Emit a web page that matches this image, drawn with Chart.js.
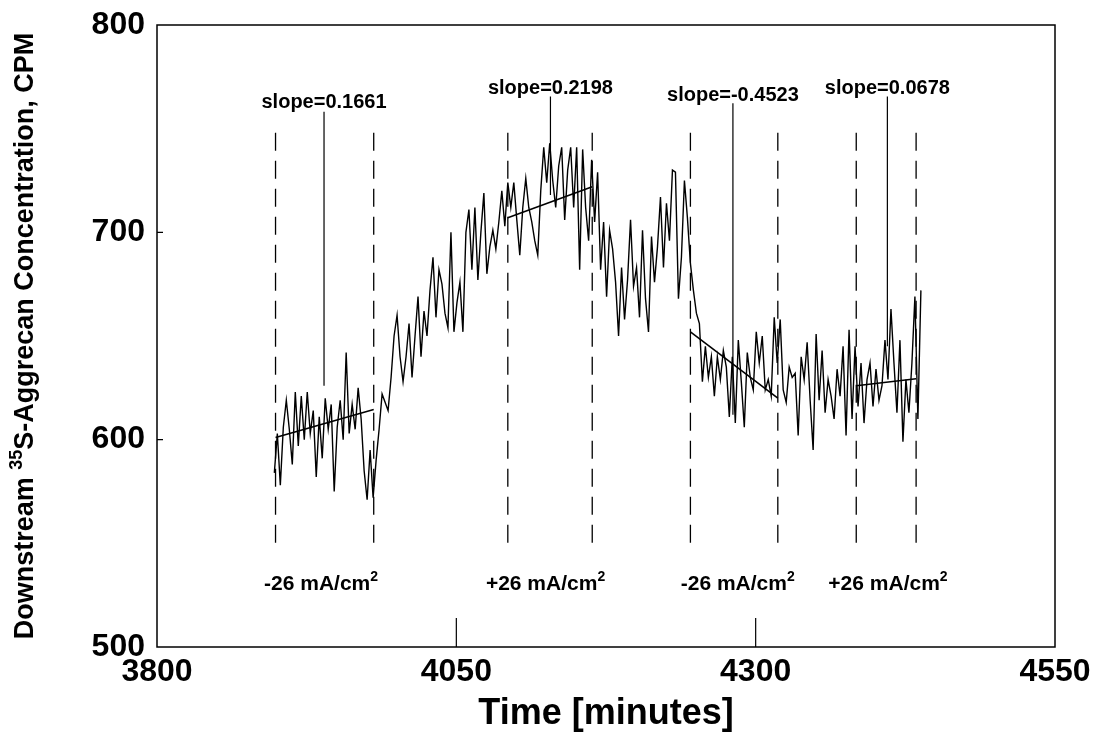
<!DOCTYPE html>
<html>
<head>
<meta charset="utf-8">
<script src="https://cdn.jsdelivr.net/npm/chart.js@4.4.1/dist/chart.umd.min.js"></script>
<style>
  html, body { margin: 0; padding: 0; background: #fff; }
  #grafico { display: block; }
</style>
</head>
<body>
<canvas id="grafico" width="1096" height="733"></canvas>
<script>
// Serie medida aguas abajo (CPM), una muestra cada 2.5 min
const traceStart = 3898;
const traceStep = 2.5;
const traceValues = [
    584, 603, 578, 606, 619, 605, 588, 623, 597, 621,
    600, 623, 603, 614, 582, 611, 591, 620, 605, 617,
    575, 606, 619, 600, 642, 603, 617, 605, 625, 610,
    585, 571, 595,
    572, 590, 605, 622, 618, 614, 630, 650, 660, 640,
    628, 640, 656, 630, 650, 669, 640, 662, 650, 672,
    688, 659, 682, 675, 661, 654, 700, 652, 666, 676,
    652, 700, 711, 682, 712, 677, 700, 719, 680, 693,
    701, 692, 705, 720, 703,
    724, 712, 724, 706, 689, 712, 726, 712, 705, 696,
    689, 720, 741, 724, 743, 725, 712, 732, 741, 706,
    730, 741, 712, 741, 682, 740, 712, 696, 735, 705,
    729, 682, 705, 669, 701, 692, 676, 650, 683, 658,
    677, 706, 674, 683, 659, 701, 668, 652, 698, 676,
    693, 717, 683, 714, 696, 730, 729, 668, 688, 725,
    707, 685, 672, 661, 656, 628, 645, 630, 640, 621,
    640, 629, 643, 635, 611, 640, 608, 648, 628, 606,
    642, 630, 624, 652, 637, 650, 624, 629, 621, 659,
    637, 658, 624, 618, 635, 630, 632, 602, 640, 629,
    647, 619, 595, 651, 619, 643, 613, 629, 621, 610,
    634, 621, 645, 602, 653, 610, 645, 616, 637, 608,
    629, 637, 616, 634, 619, 626, 648, 629, 663, 637,
    613, 648, 599, 629, 613, 637, 669, 610, 672
];

// Cambios de corriente (líneas discontinuas)
const switchTimes = [3899, 3981, 4093, 4163.5, 4245.5, 4318.5, 4384, 4434];
const dashBottom = 548.5;
const dashTop = 748;

// Rectas de ajuste en cada periodo
const fitStartTimes = [3899, 4093, 4245.5, 4384];
const fitEndTimes = [3981, 4163.5, 4318.5, 4434];
const fitStartValues = [601, 707, 652, 626];
const fitEndValues = [614.5, 722, 620, 629.4];

// Etiquetas de pendiente y sus líneas guía
const slopeLabels = ['slope=0.1661', 'slope=0.2198', 'slope=-0.4523', 'slope=0.0678'];
const slopeTimes = [3939.5, 4128.6, 4281, 4410];
const slopeLabelValues = [762.4, 769.5, 766, 769.5];
const leaderTopValues = [758.2, 765.5, 762.3, 765.5];
const leaderBottomValues = [626, 718, 612, 645];

// Densidad de corriente aplicada
const currentLabels = ['-26 mA/cm', '+26 mA/cm', '-26 mA/cm', '+26 mA/cm'];
const currentTimes = [3937, 4124.5, 4285, 4410.5];
const currentLabelValue = 530.5;

const xTicks = [3800, 4050, 4300, 4550];
const yTicks = [500, 600, 700, 800];

const fontFamily = '"Liberation Sans", Arial, Helvetica, sans-serif';

// Construir datasets
const datasets = [];
datasets.push({
    data: traceValues.map((v, i) => ({ x: traceStart + i * traceStep, y: v })),
    borderColor: '#000',
    borderWidth: 1.4,
    pointRadius: 0,
    tension: 0
});
fitStartTimes.forEach((t, i) => {
    datasets.push({
        data: [{ x: t, y: fitStartValues[i] }, { x: fitEndTimes[i], y: fitEndValues[i] }],
        borderColor: '#000',
        borderWidth: 1.6,
        pointRadius: 0
    });
});
switchTimes.forEach(t => {
    datasets.push({
        data: [{ x: t, y: dashTop }, { x: t, y: dashBottom }],
        borderColor: '#000',
        borderWidth: 1.3,
        borderDash: [18, 10],
        pointRadius: 0
    });
});
slopeTimes.forEach((t, i) => {
    datasets.push({
        data: [{ x: t, y: leaderTopValues[i] }, { x: t, y: leaderBottomValues[i] }],
        borderColor: '#000',
        borderWidth: 1.2,
        pointRadius: 0
    });
});

// Texto con partes en superíndice, centrado en (cx, cy)
function drawParts(ctx, parts, cx, cy, size) {
    const supSize = Math.round(size * 0.65);
    let total = 0;
    const widths = parts.map(p => {
        ctx.font = `bold ${p.sup ? supSize : size}px ${fontFamily}`;
        const w = ctx.measureText(p.text).width;
        total += w;
        return w;
    });
    let px = cx - total / 2;
    ctx.textAlign = 'left';
    ctx.textBaseline = 'middle';
    parts.forEach((p, i) => {
        ctx.font = `bold ${p.sup ? supSize : size}px ${fontFamily}`;
        ctx.fillText(p.text, px, p.sup ? cy - size * 0.33 : cy);
        px += widths[i];
    });
}

const decoracion = {
    id: 'decoracion',
    afterDatasetsDraw(chart) {
        const { ctx, chartArea: a, scales: { x, y } } = chart;
        ctx.save();
        ctx.strokeStyle = '#000';
        ctx.fillStyle = '#000';

        // Marco
        ctx.lineWidth = 1.5;
        ctx.strokeRect(a.left, a.top, a.right - a.left, a.bottom - a.top);

        // Marcas interiores
        ctx.lineWidth = 1.2;
        ctx.beginPath();
        xTicks.slice(1, -1).forEach(v => {
            const px = x.getPixelForValue(v);
            ctx.moveTo(px, a.bottom);
            ctx.lineTo(px, a.bottom - 29);
        });
        yTicks.slice(1, -1).forEach(v => {
            const py = y.getPixelForValue(v);
            ctx.moveTo(a.left, py);
            ctx.lineTo(a.left + 6, py);
        });
        ctx.stroke();

        // Pendientes
        ctx.font = `bold 20px ${fontFamily}`;
        ctx.textAlign = 'center';
        ctx.textBaseline = 'middle';
        slopeLabels.forEach((t, i) => {
            ctx.fillText(t, x.getPixelForValue(slopeTimes[i]), y.getPixelForValue(slopeLabelValues[i]));
        });

        // Corriente aplicada
        currentLabels.forEach((t, i) => {
            drawParts(ctx, [{ text: t }, { text: '2', sup: true }],
                x.getPixelForValue(currentTimes[i]), y.getPixelForValue(currentLabelValue), 21);
        });

        // Título del eje Y (con superíndice)
        ctx.translate(26, (a.top + a.bottom) / 2);
        ctx.rotate(-Math.PI / 2);
        drawParts(ctx, [
            { text: 'Downstream ' },
            { text: '35', sup: true },
            { text: 'S-Aggrecan Concentration, CPM' }
        ], 0, 0, 27);
        ctx.restore();
    }
};

new Chart(document.getElementById('grafico'), {
    type: 'line',
    data: { datasets: datasets },
    options: {
        responsive: false,
        animation: false,
        devicePixelRatio: 1,
        layout: { padding: { left: 0, top: 25, right: 41, bottom: 0 } },
        plugins: {
            legend: { display: false },
            tooltip: { enabled: false }
        },
        scales: {
            x: {
                type: 'linear',
                min: 3800,
                max: 4550,
                afterFit: s => {
                    s.height = 86;
                    s.paddingLeft = 0;
                    s.paddingRight = 0;
                },
                afterBuildTicks: s => { s.ticks = xTicks.map(v => ({ value: v })); },
                grid: { display: false, drawTicks: false },
                border: { display: false },
                ticks: {
                    color: '#000',
                    padding: 6,
                    maxRotation: 0,
                    font: { family: fontFamily, size: 32, weight: 'bold' },
                    callback: v => String(v)
                },
                title: {
                    display: true,
                    text: 'Time [minutes]',
                    color: '#000',
                    padding: { top: 0, bottom: -3 },
                    font: { family: fontFamily, size: 36, weight: 'bold' }
                }
            },
            y: {
                type: 'linear',
                min: 500,
                max: 800,
                afterFit: s => {
                    s.width = 157;
                    s.paddingTop = 0;
                    s.paddingBottom = 0;
                },
                afterBuildTicks: s => { s.ticks = yTicks.map(v => ({ value: v })); },
                grid: { display: false, drawTicks: false },
                border: { display: false },
                ticks: {
                    color: '#000',
                    padding: 12,
                    font: { family: fontFamily, size: 32, weight: 'bold' },
                    callback: v => String(v)
                }
            }
        }
    },
    plugins: [decoracion]
});
</script>
</body>
</html>
